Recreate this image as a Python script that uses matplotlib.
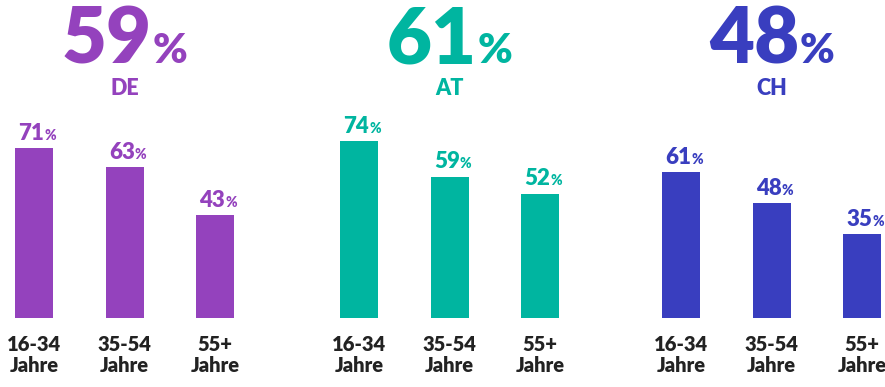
import matplotlib
matplotlib.use("Agg")
import matplotlib.pyplot as plt

# survey shares per country and age group
countries = ["DE", "AT", "CH"]
totals = [59, 61, 48]
age_groups = ["16-34\nJahre", "35-54\nJahre", "55+\nJahre"]
values_de = [71, 63, 43]
values_at = [74, 59, 52]
values_ch = [61, 48, 35]
colors = ["#9442BD", "#00B5A0", "#393EBF"]

FONT = "Lato"
PX_PER_PCT = 2.39
BASE_PX = 318          # baseline of the bars, from top
W, H = 885, 387


def pct_label(ax, x, y, value, size, psize, color, renderer, gap=0):
    """Draw a number with a smaller % sign, centred on x."""
    t1 = ax.text(x, y, f"{value}", ha="right", va="baseline", fontsize=size,
                 fontweight="heavy", color=color, family=FONT)
    t2 = ax.annotate("%", xy=(1, y), xycoords=(t1, "data"),
                     xytext=(gap, 0), textcoords="offset pixels", ha="left",
                     va="baseline", fontsize=psize, fontweight="heavy",
                     color=color, family=FONT, annotation_clip=False)
    w1 = t1.get_window_extent(renderer).width
    w2 = t2.get_window_extent(renderer).width + gap
    t1.set_x(x + (w1 - w2) / 2)


fig = plt.figure(figsize=(W / 100, H / 100), dpi=100)
ax = fig.add_axes([0, (H - BASE_PX) / H, 1, BASE_PX / H])
ax.set_xlim(0, W)
ax.set_ylim(0, BASE_PX / PX_PER_PCT)
renderer = fig.canvas.get_renderer()

group_x = [0, 325, 647]
series = [values_de, values_at, values_ch]
ticks, ticklabels = [], []
for g, (vals, col) in enumerate(zip(series, colors)):
    xs = [34 + group_x[g] + i * 90.5 for i in range(len(vals))]
    ax.bar(xs, vals, width=38, color=col)
    for x, v in zip(xs, vals):
        pct_label(ax, x + 3, v + 3.6, v, 16, 10, col, renderer, gap=0)
    centre = xs[1]
    pct_label(ax, centre, (BASE_PX - 63) / PX_PER_PCT, totals[g], 56, 30,
              col, renderer, gap=0)
    ax.text(centre, (BASE_PX - 95) / PX_PER_PCT, countries[g], ha="center",
            va="baseline", fontsize=15.5, fontweight=800, color=col,
            family=FONT)
    ticks += xs
    ticklabels += age_groups

ax.set_xticks(ticks)
ax.set_xticklabels(ticklabels, fontsize=14.5, fontweight=800,
                   color="#222222", family=FONT, linespacing=1.15)
ax.tick_params(axis="x", length=0, pad=12)
ax.set_yticks([])
for s in ax.spines.values():
    s.set_visible(False)

fig.savefig("out.png", dpi=100)
